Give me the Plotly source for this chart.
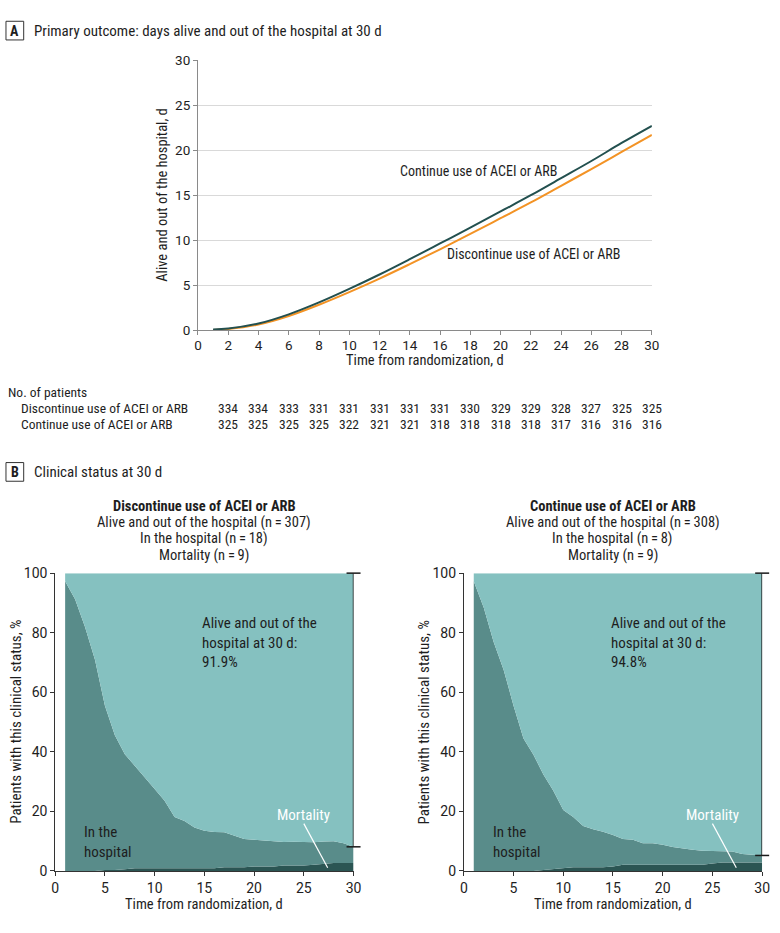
import plotly.graph_objects as go

FONT = "Roboto Condensed, Roboto, sans-serif"
TICKFONT = "Roboto, sans-serif"
TXT = "#1e1e1e"

# ---------------- Panel A data ----------------
days_a = [1, 2, 4, 6, 8, 10, 12, 14, 16, 18, 20, 22, 24, 26, 28, 30]
continue_days = [0.1, 0.2, 0.76, 1.78, 3.1, 4.6, 6.2, 7.9, 9.65, 11.4, 13.2, 15.0, 16.9, 18.8, 20.8, 22.7]
discontinue_days = [0.05, 0.15, 0.65, 1.6, 2.85, 4.25, 5.75, 7.35, 9.0, 10.7, 12.45, 14.2, 16.05, 17.9, 19.8, 21.7]

risk_days = [2, 4, 6, 8, 10, 12, 14, 16, 18, 20, 22, 24, 26, 28, 30]
risk_discontinue = [334, 334, 333, 331, 331, 331, 331, 331, 330, 329, 329, 328, 327, 325, 325]
risk_continue = [325, 325, 325, 325, 322, 321, 321, 318, 318, 318, 318, 317, 316, 316, 316]

# ---------------- Panel B data ----------------
days_b = list(range(1, 31))
disc_mortality = [0, 0, 0, 0, 0.3, 0.3, 0.6, 0.9, 0.9, 0.9, 0.9, 0.9, 0.9, 0.9, 0.9,
                  0.9, 1.2, 1.2, 1.2, 1.5, 1.5, 1.5, 1.8, 1.8, 1.8, 2.1, 2.4, 2.7, 2.7, 2.7]
disc_hospital = [97.3, 91.2, 81.9, 70.9, 55.2, 45.3, 38.6, 34.3, 30.6, 26.6, 22.7, 17.2, 15.9, 13.7, 12.6,
                 12.2, 11.8, 10.7, 9.5, 9.0, 8.8, 8.5, 7.9, 8.0, 8.0, 7.5, 7.5, 7.3, 6.6, 5.4]
disc_alive = [2.7, 8.8, 18.1, 29.1, 44.5, 54.4, 60.8, 64.8, 68.5, 72.5, 76.4, 81.9, 83.2, 85.4, 86.5,
              86.9, 87.0, 88.1, 89.3, 89.5, 89.7, 90.0, 90.3, 90.2, 90.2, 90.4, 90.1, 90.0, 90.7, 91.9]

cont_mortality = [0, 0, 0, 0, 0, 0, 0, 0.3, 0.6, 0.9, 1.2, 1.2, 1.2, 1.2, 1.5,
                  2.1, 2.1, 2.1, 2.1, 2.1, 2.1, 2.1, 2.1, 2.1, 2.5, 2.8, 2.8, 2.8, 2.8, 2.8]
cont_hospital = [97.3, 88.5, 76.9, 67.6, 55.5, 44.5, 39.0, 32.1, 26.3, 19.6, 16.9, 13.9, 12.8, 12.0, 10.6,
                 8.6, 8.4, 7.2, 7.2, 6.7, 5.9, 5.4, 5.0, 4.7, 4.2, 3.7, 3.7, 2.9, 2.7, 2.4]
cont_alive = [2.7, 11.5, 23.1, 32.4, 44.5, 55.5, 61.0, 67.6, 73.1, 79.5, 81.9, 84.9, 86.0, 86.8, 87.9,
              89.3, 89.5, 90.7, 90.7, 91.2, 92.0, 92.5, 92.9, 93.2, 93.3, 93.5, 93.5, 94.3, 94.5, 94.8]

group_titles = ["Discontinue use of ACEI or ARB", "Continue use of ACEI or ARB"]
n_alive = [307, 308]
n_hospital = [18, 8]
n_mortality = [9, 9]

C_CONT = "#23504f"
C_DISC = "#f39325"
C_ALIVE = "#85c1c0"
C_HOSP = "#598c8a"
C_MORT = "#2b5553"

W, H = 780, 933
def px(x):
    return x / W
def py(y):
    return 1 - y / H

fig = go.Figure()

# Panel A lines
fig.add_trace(go.Scatter(x=days_a, y=discontinue_days, mode="lines", line=dict(color=C_DISC, width=2, shape="spline"),
                         xaxis="x", yaxis="y", showlegend=False, hoverinfo="skip"))
fig.add_trace(go.Scatter(x=days_a, y=continue_days, mode="lines", line=dict(color=C_CONT, width=2, shape="spline"),
                         xaxis="x", yaxis="y", showlegend=False, hoverinfo="skip"))

# Panel B stacked areas
for (mort, hosp, alive, xa, ya, sg) in [(disc_mortality, disc_hospital, disc_alive, "x2", "y2", "L"),
                                         (cont_mortality, cont_hospital, cont_alive, "x3", "y3", "R")]:
    for vals, col in [(mort, C_MORT), (hosp, C_HOSP), (alive, C_ALIVE)]:
        fig.add_trace(go.Scatter(x=days_b, y=vals, mode="lines", stackgroup=sg, line=dict(width=0, color=col),
                                 fillcolor=col, xaxis=xa, yaxis=ya, showlegend=False, hoverinfo="skip"))
    # bracket showing the alive proportion at day 30
    fig.add_trace(go.Scatter(x=[days_b[-1], days_b[-1]], y=[100, 100 - alive[-1]], mode="lines+markers",
                             line=dict(color="#1a1a1a", width=1.5),
                             marker=dict(symbol="line-ew", size=10, line=dict(width=1.5, color="#1a1a1a")),
                             cliponaxis=False, xaxis=xa, yaxis=ya, showlegend=False, hoverinfo="skip"))

axA = dict(range=[0, 30], ticks="outside", ticklen=4, tickcolor="#8a8a8a", showline=True, linecolor="#8a8a8a",
           zeroline=False, tickfont=dict(family=TICKFONT, size=13.5, color=TXT), fixedrange=True)
axB = dict(ticks="outside", ticklen=4, tickcolor="#333", showline=True, linecolor="#333", zeroline=False,
           showgrid=False, tickfont=dict(family=TICKFONT, size=14, color=TXT), fixedrange=True)

fig.update_layout(
    width=W, height=H, margin=dict(l=0, r=0, t=0, b=0),
    paper_bgcolor="white", plot_bgcolor="white",
    font=dict(family=FONT, size=14, color=TXT),
    xaxis=dict(axA, domain=[px(197), px(658)], tickvals=list(range(0, 31, 2)), showgrid=False, anchor="y",
               ticklabelstandoff=-2),
    yaxis=dict(axA, domain=[py(328), py(53)], tickvals=list(range(0, 31, 5)), showgrid=True,
               gridcolor="#d9d9d9", anchor="x"),
    xaxis2=dict(axB, domain=[px(52), px(355)], range=[0, 30], dtick=5, anchor="y2"),
    yaxis2=dict(axB, domain=[py(878), py(575)], range=[0, 100], dtick=20, anchor="x2"),
    xaxis3=dict(axB, domain=[px(467), px(770)], range=[0, 30], dtick=5, anchor="y3"),
    yaxis3=dict(axB, domain=[py(878), py(575)], range=[0, 100], dtick=20, anchor="x3"),
)

ann = []
def A(**kw):
    d = dict(showarrow=False, font=dict(family=FONT, size=kw.pop("size", 14), color=kw.pop("color", TXT)))
    d.update(kw)
    ann.append(d)

# Panel labels
for letter, yc, title in [("A", 23, "Primary outcome: days alive and out of the hospital at 30 d"),
                          ("B", 472, "Clinical status at 30 d")]:
    fig.add_shape(type="rect", xref="paper", yref="paper", x0=px(2), x1=px(20), y0=py(yc + 9.5), y1=py(yc - 9.5),
                  line=dict(color="#333", width=1))
    A(text="<b>%s</b>" % letter, x=px(11), y=py(yc), xref="paper", yref="paper", xanchor="center", yanchor="middle", size=14)
    A(text=title, x=px(28), y=py(yc), xref="paper", yref="paper", xanchor="left", yanchor="middle", size=15)

# Panel A axis titles
A(text="Time from randomization, d", x=px(427.5), y=py(359), xref="paper", yref="paper", xanchor="center",
  yanchor="middle", size=14.5)
A(text="Alive and out of the hospital, d", x=px(161), y=py(190.5), xref="paper", yref="paper", textangle=-90,
  xanchor="center", yanchor="middle", size=14.5)
# Line labels
A(text="Continue use of ACEI or ARB", x=18.55, y=17.7, xref="x", yref="y", xanchor="center", yanchor="middle")
A(text="Discontinue use of ACEI or ARB", x=22.2, y=8.5, xref="x", yref="y", xanchor="center", yanchor="middle")

# Number at risk table
A(text="No. of patients", x=px(2), y=py(391), xref="paper", yref="paper", xanchor="left", yanchor="middle", size=13.5)
for row_y, label, vals in [(407, group_titles[0], risk_discontinue), (423, group_titles[1], risk_continue)]:
    A(text=label, x=px(15), y=py(row_y), xref="paper", yref="paper", xanchor="left", yanchor="middle", size=13.5)
    for d, v in zip(risk_days, vals):
        A(text=str(v), x=d, y=py(row_y), xref="x", yref="paper", xanchor="center", yanchor="middle", size=13.5)

# Panel B headers, labels
for i, (xc, ytx, xa, ya, alive) in enumerate([(203.5, 12, "x2", "y2", disc_alive),
                                             (618.5, 427, "x3", "y3", cont_alive)]):
    lines = ["<b>%s</b>" % group_titles[i],
             "Alive and out of the hospital (n\u2009=\u2009%d)" % n_alive[i],
             "In the hospital (n\u2009=\u2009%d)" % n_hospital[i],
             "Mortality (n\u2009=\u2009%d)" % n_mortality[i]]
    for k, t in enumerate(lines):
        A(text=t, x=px(xc), y=py(507 + 16.6 * k), xref="paper", yref="paper", xanchor="center", yanchor="middle",
          size=14.5)
    A(text="Time from randomization, d", x=px(xc), y=py(912), xref="paper", yref="paper", xanchor="center",
      yanchor="middle", size=14.5)
    A(text="Patients with this clinical status, %", x=px(ytx), y=py(726.5),
      xref="paper", yref="paper", textangle=-90, xanchor="center", yanchor="middle", size=15)
    A(text="Alive and out of the<br>hospital at 30 d:<br>%.1f%%" % alive[-1], x=14.6, y=83.5, xref=xa, yref=ya,
      xanchor="left", yanchor="top", align="left", yshift=10, size=15)
    A(text="In the<br>hospital", x=2.7, y=13.4, xref=xa, yref=ya, xanchor="left", yanchor="top", align="left",
      yshift=10, size=15)
    A(text="Mortality", x=25.0, y=18.7, xref=xa, yref=ya, xanchor="center", yanchor="middle", color="white", size=15)
    fig.add_shape(type="line", xref=xa, yref=ya, x0=25.0, y0=15.9, x1=27.4, y1=1.1, line=dict(color="white", width=1.2))

fig.update_layout(annotations=ann)
fig.write_html("out.html", config={"displayModeBar": False},
               post_script="document.body.style.margin='0';document.body.style.overflow='hidden';")
